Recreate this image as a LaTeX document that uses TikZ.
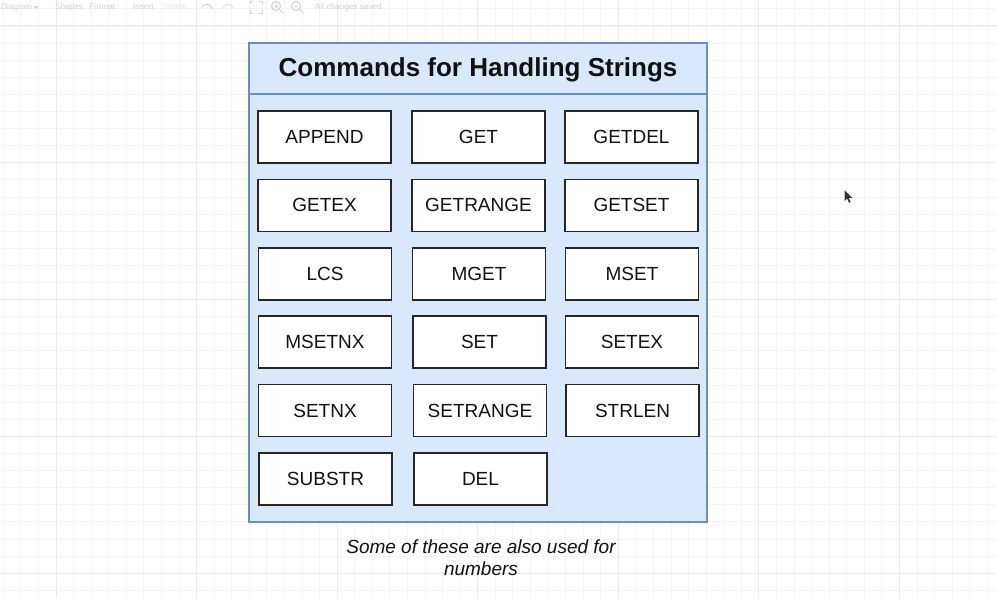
\documentclass[tikz,border=0pt]{standalone}
\usepackage{fontspec}
\setmainfont{Liberation Sans}
\definecolor{panelfill}{HTML}{DAE8FC}
\definecolor{panelline}{HTML}{6C8EBF}
\definecolor{gridminor}{HTML}{F4F4F4}
\definecolor{gridmajor}{HTML}{EAEAEA}
\definecolor{uigray}{HTML}{D2D2D2}
\definecolor{uifaint}{HTML}{E6E6E6}
\definecolor{inkdark}{HTML}{111111}
\begin{document}
\begin{tikzpicture}[x=1pt,y=-1pt,
  minorline/.style={draw=gridminor, line width=0.8pt},
  majorline/.style={draw=gridmajor, line width=1pt},
  uitext/.style={text=uigray, font=\fontsize{8.2}{10}\selectfont, inner sep=0pt, anchor=west},
  uiicon/.style={draw=uigray, line width=1pt},
  panel/.style={draw=panelline, fill=panelfill, line width=1.4pt, minimum width=458pt, minimum height=479pt, inner sep=0pt},
  titletext/.style={text=inkdark, font=\bfseries\fontsize{26}{30}\selectfont, inner sep=0pt},
  cmdbox/.style={draw=black!85, line width=1.6pt, fill=white, minimum width=133pt, minimum height=52pt, inner sep=0pt, text=inkdark, font=\fontsize{19}{22}\selectfont},
  captiontext/.style={text=inkdark, align=center, inner sep=0pt, font=\itshape\fontsize{19}{22}\selectfont}
]
\useasboundingbox[fill=white] (0,0) rectangle (997,598);

% background grid of the drawing canvas
\foreach \i in {0,...,56} {
  \pgfmathsetmacro\gx{3.3+17.57*\i}
  \draw[minorline] (\gx,0) -- (\gx,598);
}
\foreach \j in {0,...,34} {
  \pgfmathsetmacro\gy{8.8+17.1*\j}
  \draw[minorline] (0,\gy) -- (997,\gy);
}
\foreach \i in {3,11,...,51} {
  \pgfmathsetmacro\gx{3.3+17.57*\i}
  \draw[majorline] (\gx,0) -- (\gx,598);
}
\foreach \j in {1,9,...,33} {
  \pgfmathsetmacro\gy{8.8+17.1*\j}
  \draw[majorline] (0,\gy) -- (997,\gy);
}

% editor toolbar (shifts below are in page direction: positive yshift is up)
\node[uitext] (mDiagram) at (1,7) {Diagram};
\coordinate (caret) at (36,7);
\fill[uigray] ([xshift=-2.5pt,yshift=1pt]caret) -- ([xshift=2.5pt,yshift=1pt]caret) -- ([yshift=-2pt]caret) -- cycle;
\node[uitext] (mShapes) at (55,7) {Shapes};
\node[uitext] (mFormat) at (89,7) {Format};
\node[uitext] (mInsert) at (133,7) {Insert};
\node[uitext, text=uifaint] (mDelete) at (163,7) {Delete};
\coordinate (undo) at (207,7);
\draw[uiicon] ([xshift=-6pt,yshift=-1pt]undo) .. controls ([xshift=-3pt,yshift=4pt]undo) and ([xshift=3pt,yshift=4pt]undo) .. ([xshift=6pt,yshift=-2pt]undo);
\coordinate (redo) at (228,7);
\draw[uiicon, draw=uifaint] ([xshift=6pt,yshift=-1pt]redo) .. controls ([xshift=3pt,yshift=4pt]redo) and ([xshift=-3pt,yshift=4pt]redo) .. ([xshift=-6pt,yshift=-2pt]redo);
\coordinate (full) at (256,7);
\draw[uiicon] ([xshift=-6pt,yshift=-3pt]full) |- ([xshift=-3pt,yshift=-6pt]full);
\draw[uiicon] ([xshift=6pt,yshift=-3pt]full) |- ([xshift=3pt,yshift=-6pt]full);
\draw[uiicon] ([xshift=-6pt,yshift=3pt]full) |- ([xshift=-3pt,yshift=6pt]full);
\draw[uiicon] ([xshift=6pt,yshift=3pt]full) |- ([xshift=3pt,yshift=6pt]full);
\coordinate (zin) at (276,6);
\draw[uiicon] (zin) circle (4.5pt);
\draw[uiicon] ([xshift=3.2pt,yshift=-3.2pt]zin) -- ([xshift=7pt,yshift=-7pt]zin);
\draw[uiicon, line width=0.7pt] ([xshift=-2pt]zin) -- ([xshift=2pt]zin) ([yshift=-2pt]zin) -- ([yshift=2pt]zin);
\coordinate (zout) at (296,6);
\draw[uiicon] (zout) circle (4.5pt);
\draw[uiicon] ([xshift=3.2pt,yshift=-3.2pt]zout) -- ([xshift=7pt,yshift=-7pt]zout);
\draw[uiicon, line width=0.7pt] ([xshift=-2pt]zout) -- ([xshift=2pt]zout);
\node[uitext] (saved) at (315,7) {All changes saved};

% container with its header
\node[panel] (panel) at (478,282.5) {};
\draw[draw=panelline, line width=1.4pt] (panel.west |- 0,94) -- (panel.east |- 0,94);
\node[titletext] (title) at (478,70) {Commands for Handling Strings};

% command boxes, three columns
\node[cmdbox] (append)   at (324.5,137)   {APPEND};
\node[cmdbox] (get)      at (478.5,137)   {GET};
\node[cmdbox] (getdel)   at (631.5,137)   {GETDEL};
\node[cmdbox] (getex)    at (324.5,205.4) {GETEX};
\node[cmdbox] (getrange) at (478.5,205.4) {GETRANGE};
\node[cmdbox] (getset)   at (631.5,205.4) {GETSET};
\node[cmdbox] (lcs)      at (325,273.8)   {LCS};
\node[cmdbox] (mget)     at (479,273.8)   {MGET};
\node[cmdbox] (mset)     at (632,273.8)   {MSET};
\node[cmdbox] (msetnx)   at (325,342.2)   {MSETNX};
\node[cmdbox] (set)      at (479.5,342.2) {SET};
\node[cmdbox] (setex)    at (632,342.2)   {SETEX};
\node[cmdbox] (setnx)    at (325,410.6)   {SETNX};
\node[cmdbox] (setrange) at (480,410.6)   {SETRANGE};
\node[cmdbox] (strlen)   at (632.5,410.6) {STRLEN};
\node[cmdbox] (substr)   at (325.5,479)   {SUBSTR};
\node[cmdbox] (del)      at (480.5,479)   {DEL};

% note below the container
\node[captiontext] (note) at (481,558) {Some of these are also used for\\numbers};

% mouse pointer
\coordinate (ptr) at (844.5,190);
\fill[black!80] (ptr) -- ++(0,11) -- ++(2.6,-2.4) -- ++(2,4.2) -- ++(1.6,-0.8) -- ++(-2,-4) -- ++(3.6,0) -- cycle;
\end{tikzpicture}
\end{document}
